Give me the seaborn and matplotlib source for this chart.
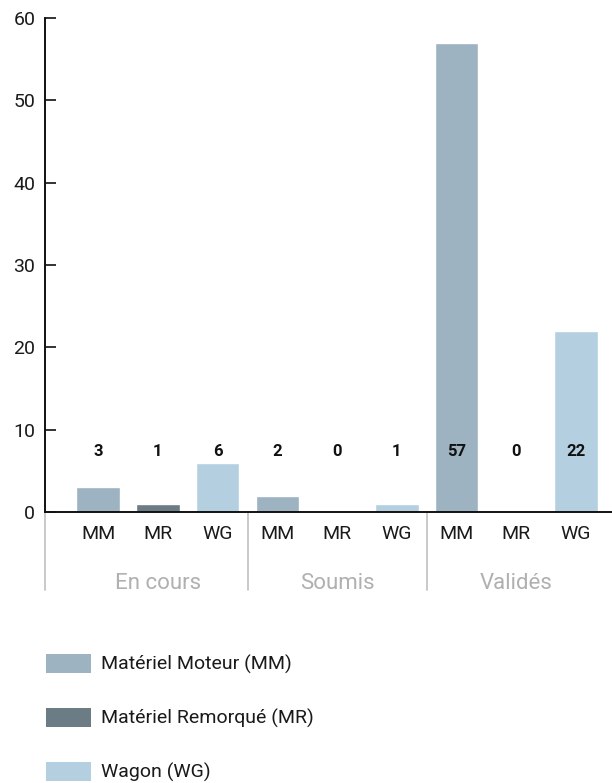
import matplotlib
matplotlib.use("Agg")
import matplotlib.pyplot as plt
import matplotlib.patches as mpatches
import matplotlib.transforms as mtransforms
import seaborn as sns
import pandas as pd

# Data
groups = ["En cours", "Soumis", "Validés"]
types = ["MM", "MR", "WG"]
type_names = ["Matériel Moteur (MM)", "Matériel Remorqué (MR)", "Wagon (WG)"]
en_cours = [3, 1, 6]
soumis = [2, 0, 1]
valides = [57, 0, 22]
yticks = [0, 10, 20, 30, 40, 50, 60]

colors = {"MM": "#9db3c1", "MR": "#6b7c85", "WG": "#b4cfe0"}

rows = []
for g, vals in zip(groups, [en_cours, soumis, valides]):
    for t, v in zip(types, vals):
        rows.append({"key": f"{g}|{t}", "group": g, "type": t, "value": v})
df = pd.DataFrame(rows)

sns.set_theme(style="white")
plt.rcParams["font.family"] = ["Roboto", "DejaVu Sans"]

fig = plt.figure(figsize=(6.12, 7.83), dpi=100)
ax = fig.add_axes([0.0735, 0.346, 0.9265, 0.631])

sns.barplot(data=df, x="key", y="value", hue="type", palette=colors,
            order=list(df["key"]), hue_order=types, dodge=False,
            width=0.73, ax=ax, legend=False, saturation=1)

ax.set_xlim(-0.89, 8.6)
ax.set_ylim(0, 60)
ax.set_yticks(yticks)
ax.set_xlabel("")
ax.set_ylabel("")

ax.set_xticks(range(len(df)))
ax.set_xticklabels(df["type"], fontsize=14, color="#1a1a1a")
ax.tick_params(axis="x", length=0, pad=9)
ax.tick_params(axis="y", direction="in", length=8, width=1.2, color="#111111",
               labelsize=14, labelcolor="#1a1a1a", pad=7, left=True)

for s in ["top", "right"]:
    ax.spines[s].set_visible(False)
for s in ["left", "bottom"]:
    ax.spines[s].set_color("#111111")
    ax.spines[s].set_linewidth(1.4)

# Value labels at a fixed height above the bars
for i, v in enumerate(df["value"]):
    ax.text(i, 7.3, f"{v}", ha="center", va="center", fontsize=12,
            fontweight="bold", color="#111111")

# Group labels and separators below the axis
trans = mtransforms.blended_transform_factory(ax.transData, ax.transAxes)
for gi, g in enumerate(groups):
    ax.text(gi * 3 + 1, -0.145, g, transform=trans, ha="center", va="center",
            fontsize=16, color="#b0b0b0")
for xs in [-0.89, 2.5, 5.5]:
    ax.plot([xs, xs], [0, -0.158], transform=trans, color="#c0c0c0",
            lw=1.2, clip_on=False)

# Legend
handles = [mpatches.Patch(facecolor=colors[t], edgecolor="none") for t in types]
fig.legend(handles, type_names, loc="upper left",
           bbox_to_anchor=(0.063, 0.175), frameon=False, fontsize=14,
           handlelength=2.3, handleheight=1.15, handletextpad=0.5,
           labelspacing=1.72, borderaxespad=0, labelcolor="#1a1a1a")

fig.savefig("out.png", dpi=100)
